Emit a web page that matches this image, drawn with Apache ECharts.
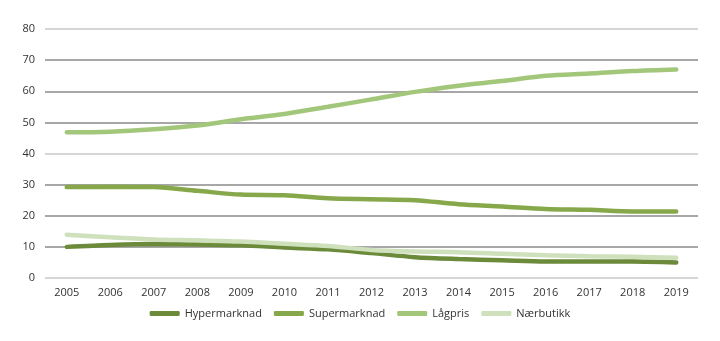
<!DOCTYPE html>
<html><head><meta charset="utf-8">
<script src="https://cdn.jsdelivr.net/npm/echarts@6/dist/echarts.min.js"></script>
<style>html,body{margin:0;padding:0;background:#fff}#c{width:720px;height:341px}</style>
</head><body><div id="c"></div>
<script>
const years = ['2005','2006','2007','2008','2009','2010','2011','2012','2013','2014','2015','2016','2017','2018','2019'];
const hypermarknad = [10, 10.6, 10.9, 10.8, 10.5, 9.8, 9.2, 8, 6.7, 6.1, 5.7, 5.3, 5.3, 5.3, 5.0];
const supermarknad = [29.2, 29.3, 29.2, 28, 26.8, 26.6, 25.6, 25.3, 25, 23.7, 23, 22.2, 21.9, 21.4, 21.4];
const lagpris = [46.8, 47, 47.8, 49, 51, 52.7, 55, 57.4, 59.8, 61.8, 63.3, 65, 65.7, 66.5, 67];
const naerbutikk = [13.9, 13.1, 12.4, 12.1, 11.7, 11, 10.3, 9, 8.5, 8.3, 7.8, 7.3, 7, 6.8, 6.5];
const seriesNames = ['Hypermarknad','Supermarknad','Lågpris','Nærbutikk'];
const colors = ['#6b8a3a','#86a84a','#a3c77a','#cfe0bd'];
const font = 'Open Sans';
const chart = echarts.init(document.getElementById('c'));
const data = [hypermarknad, supermarknad, lagpris, naerbutikk];
chart.setOption({
  animation: false,
  color: colors,
  grid: {left: 45, right: 22, top: 29, bottom: 63},
  legend: {
    bottom: 17, left: 'center', itemWidth: 30, itemHeight: 5, itemGap: 12,
    icon: 'roundRect',
    textStyle: {fontFamily: font, fontSize: 11, color: '#333'},
    data: seriesNames
  },
  xAxis: {
    type: 'category', data: years, boundaryGap: true,
    axisLine: {show: false}, axisTick: {show: false},
    axisLabel: {fontFamily: font, fontSize: 11, color: '#333', margin: 9}
  },
  yAxis: {
    type: 'value', min: 0, max: 80, interval: 10,
    axisLine: {show: false}, axisTick: {show: false},
    axisLabel: {fontFamily: font, fontSize: 11, color: '#333', margin: 10},
    splitLine: {lineStyle: {color: ['#c8c8c8','#8a8a8a','#8a8a8a','#8a8a8a'], width: 1.5}}
  },
  series: seriesNames.map((n, i) => ({
    name: n, type: 'line', data: data[i], smooth: 0.3, showSymbol: false, symbol: 'none',
    lineStyle: {width: 4.5, cap: 'round', color: colors[i]}
  }))
});
</script></body></html>
